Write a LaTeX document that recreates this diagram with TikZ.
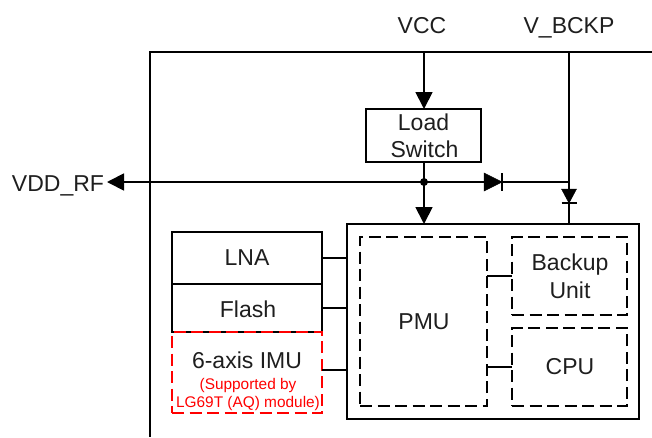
\documentclass[tikz,border=0pt]{standalone}
\usepackage{fontspec}
\setmainfont{Liberation Sans}
\usetikzlibrary{arrows.meta}
\definecolor{txt}{RGB}{30,30,30}
\tikzset{
  x=1pt,y=-1pt,
  wire/.style={line width=1.8pt,draw=black},
  arr/.style={wire,-{Triangle[length=17pt,width=17pt]}},
  solidbox/.style={draw=black,line width=1.8pt,inner sep=0pt,outer sep=0pt,align=center,text=txt},
  dashbox/.style={solidbox,dash pattern=on 12pt off 5.5pt},
  redbox/.style={solidbox,draw=red,dash pattern=on 12pt off 5.5pt},
  lbl/.style={inner sep=0pt,anchor=base,text=txt,font=\fontsize{23}{27}\selectfont},
  redlbl/.style={inner sep=0pt,anchor=base,text=red,font=\fontsize{15.4}{18}\selectfont},
  dio/.style={fill=black,draw=black,line width=0.5pt}
}
\newcommand{\boxat}[7]{\node[#1,minimum width=#4pt-#2pt,minimum height=#5pt-#3pt,anchor=north west] (#6) at (#2,#3) {#7};}
\begin{document}
\begin{tikzpicture}
\useasboundingbox (0,0) rectangle (652,437);
% outer module edge
\coordinate (edgeR) at (652,52);
\coordinate (edgeC) at (150,52);
\coordinate (edgeB) at (150,437);
\draw[wire] (edgeR) -- (edgeC) -- (edgeB);
% blocks
\boxat{solidbox}{366}{109}{481}{162}{sw}{}
\boxat{solidbox}{347}{224}{639}{419}{soc}{}
\boxat{dashbox}{360}{237}{487}{406}{pmu}{}
\boxat{dashbox}{512}{237}{627}{315}{backup}{}
\boxat{dashbox}{512}{328}{627}{406}{cpu}{}
\boxat{solidbox}{172}{232}{322}{284}{lna}{}
\boxat{solidbox}{172}{284}{322}{332}{flash}{}
\boxat{redbox}{172}{332}{322}{413}{imu}{}
% labels
\node[lbl] (tsw1) at (423.5,130) {Load};
\node[lbl] (tsw2) at (424.5,157) {Switch};
\node[lbl] (tlna) at (247,265) {LNA};
\node[lbl] (tfl) at (248,317) {Flash};
\node[lbl] (timu) at (247,368) {6-axis IMU};
\node[redlbl] (tr1) at (248,389) {(Supported by};
\node[redlbl] (tr2) at (248,407) {LG69T (AQ) module)};
\node[lbl] (tpmu) at (424,329) {PMU};
\node[lbl] (tb1) at (570,270) {Backup};
\node[lbl] (tb2) at (570,298) {Unit};
\node[lbl] (tcpu) at (570,374) {CPU};
\node[lbl] (vcc) at (422,33) {VCC};
\node[lbl] (vb) at (569,33) {V\_BCKP};
\node[lbl] (vrf) at (58,191) {VDD\_RF};
% connectors
\coordinate (vcctop) at (424,52);
\coordinate (vbtop) at (569,52);
\coordinate (jn) at (424,182);
\coordinate (jb) at (569,182);
\coordinate (rfend) at (107,182);
\coordinate (imuport) at (322,370);
\draw[arr] (vcctop) -- (vcctop |- sw.north);
\draw[wire] (sw.south -| jn) -- (jn);
\draw[arr] (jn) -- (jn |- soc.north);
\draw[arr] (jb) -- (jn) -- (rfend);
\draw[wire] (vbtop) -- (vbtop |- soc.north);
\fill (jn) circle (4pt);
% diodes
\coordinate (d1a) at (484,182);
\coordinate (d1k) at (502,182);
\fill[dio] (d1a) ++(0,-9) -- (d1k) -- ++(-18,9) -- cycle;
\draw[wire] (d1k) ++(0,-9) -- ++(0,18);
\coordinate (d2a) at (569,189);
\coordinate (d2k) at (569,203);
\fill[dio] (d2a) ++(-7.5,0) -- (d2k) -- ++(7.5,-14) -- cycle;
\draw[wire] (d2k) ++(-7.5,0) -- ++(15,0);
% links
\draw[wire] (lna.east) -- (lna.east -| soc.west);
\draw[wire] (flash.east) -- (flash.east -| soc.west);
\draw[wire] (imuport) -- (imuport -| soc.west);
\draw[wire] (pmu.east |- backup.west) -- (backup.west);
\draw[wire] (pmu.east |- cpu.west) -- (cpu.west);
\end{tikzpicture}
\end{document}
